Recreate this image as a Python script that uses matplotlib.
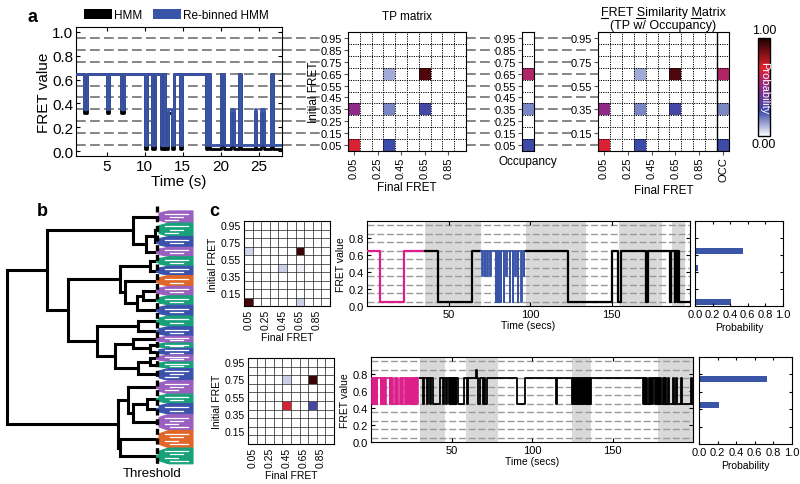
import numpy as np
import matplotlib
matplotlib.use("Agg")
import matplotlib.pyplot as plt
from matplotlib.colors import LinearSegmentedColormap, Normalize
from matplotlib.patches import Rectangle, Polygon
from matplotlib.lines import Line2D
from matplotlib.cm import ScalarMappable
import matplotlib.transforms as mtransforms

plt.rcParams['font.family'] = ['Liberation Sans', 'DejaVu Sans']

# ======================= DATA =======================
fret_levels = [0.05, 0.15, 0.25, 0.35, 0.45, 0.55, 0.65, 0.75, 0.85, 0.95]
fret_labels = ['0.05', '0.15', '0.25', '0.35', '0.45', '0.55', '0.65', '0.75', '0.85', '0.95']
fsm_label_levels = [0.15, 0.35, 0.55, 0.75, 0.95]
final_tick_levels = [0.05, 0.25, 0.45, 0.65, 0.85]

# panel a: example trace (change points and states)
a_times = [1.0, 2.0, 2.4, 5.0, 5.3, 6.9, 7.3, 10.0, 10.3, 10.9, 11.3, 12.1, 12.5, 12.7,
           13.0, 13.6, 13.8, 14.6, 14.9, 18.0, 18.3, 18.5, 20.0, 20.4, 21.3, 21.7, 22.4,
           22.6, 24.4, 24.6, 25.3, 25.6, 26.5, 26.8, 28.0]
a_rebinned = [0.65, 0.35, 0.65, 0.35, 0.65, 0.35, 0.65, 0.05, 0.65, 0.05, 0.65, 0.05,
              0.65, 0.05, 0.35, 0.05, 0.65, 0.05, 0.65, 0.05, 0.65, 0.05, 0.65, 0.05,
              0.35, 0.05, 0.65, 0.05, 0.35, 0.05, 0.35, 0.05, 0.65, 0.05]
a_hmm = [0.65, 0.32, 0.65, 0.32, 0.65, 0.32, 0.65, 0.02, 0.65, 0.02, 0.65, 0.02,
         0.65, 0.02, 0.32, 0.02, 0.65, 0.02, 0.65, 0.02, 0.65, 0.02, 0.65, 0.02,
         0.32, 0.02, 0.65, 0.02, 0.32, 0.02, 0.32, 0.02, 0.65, 0.02]

# panel a: transition probability matrix entries (initial, final, probability)
tp_initial = [0.65, 0.65, 0.35, 0.35, 0.35, 0.05, 0.05]
tp_final = [0.35, 0.65, 0.05, 0.35, 0.65, 0.05, 0.35]
tp_prob = [0.12, 0.92, 0.50, 0.17, 0.27, 0.68, 0.25]
occ_level = [0.65, 0.35, 0.05]
occ_prob = [0.58, 0.17, 0.26]

# panel b: dendrogram clusters (top to bottom) and tree (merge distance, left, right)
clu_colors = ['purple', 'green', 'blue', 'purple', 'green', 'blue', 'orange', 'purple',
              'green', 'blue', 'green', 'blue', 'purple', 'green', 'blue', 'purple',
              'green', 'blue', 'purple', 'green', 'blue', 'purple', 'orange', 'green']
clu_sizes = [9, 10, 8, 7, 7, 7, 8, 7, 7, 8, 8, 7, 5, 4, 5, 5, 5, 9, 10, 7, 8, 12, 13, 12]
tree = (185,
        (145,
         (59, 0, (46, (37, 1, 2), 3)),
         (124,
          (72, (42, 4, 5), (67, 6, (55, (49, 7, 8), 9))),
          (95, (54, 10, 11), (77, (59, 12, (42, 13, 14)), (54, (42, 15, 16), 17))))),
        (74, (64, 18, (59, (45, 19, 20), 21)), (72, 22, 23)))
threshold = 35

# panel c: two example molecules
c1_tp_initial = [0.65, 0.65, 0.45, 0.45, 0.05, 0.05]
c1_tp_final = [0.05, 0.65, 0.45, 0.65, 0.05, 0.65]
c1_tp_prob = [0.06, 0.95, 0.07, 0.02, 0.93, 0.07]
c2_tp_initial = [0.75, 0.75, 0.45, 0.45]
c2_tp_final = [0.45, 0.75, 0.45, 0.75]
c2_tp_prob = [0.07, 0.95, 0.68, 0.27]

c1_mag_t = [0.0, 8.0, 22.4, 35.6]
c1_mag_s = [0.65, 0.05, 0.65]
c1_blk1_t = [35.6, 43.4, 64.2, 70.0]
c1_blk1_s = [0.65, 0.05, 0.65]
c1_blue_t = [70.0, 70.6, 70.9, 72.2, 72.6, 73.8, 74.2, 75.6, 76.0, 78.8, 79.2, 79.6,
             80.0, 80.4, 80.8, 81.2, 81.6, 82.0, 82.4, 83.8, 84.2, 85.4, 85.8, 87.4,
             87.8, 89.4, 89.8, 90.9, 91.3, 92.4, 92.8, 94.5, 94.9, 96.1, 96.5, 97.7]
c1_blue_s = [0.65, 0.35, 0.65, 0.35, 0.65, 0.35, 0.65, 0.35, 0.65,
             0.05, 0.65, 0.05, 0.65, 0.05, 0.65, 0.05, 0.65, 0.05,
             0.65, 0.05, 0.65, 0.35, 0.65, 0.05, 0.65, 0.05, 0.65, 0.35,
             0.65, 0.05, 0.65, 0.05, 0.65, 0.35, 0.65]
c1_blk2_t = [97.7, 123.4, 150.0, 153.7, 155.5, 171.2, 172.0, 185.5, 186.3, 188.5,
             189.0, 190.0, 190.5, 191.2, 198.0]
c1_blk2_s = [0.65, 0.05, 0.65, 0.05, 0.65, 0.05, 0.65, 0.05, 0.65, 0.05, 0.65,
             0.05, 0.65, 0.05]
c1_shade = [(35.6, 70.0), (97.7, 134.0), (154.5, 181.0), (187.0, 195.0)]
c1_bar_y = [0.65, 0.45, 0.05]
c1_bar_p = [0.55, 0.03, 0.41]

c2_mag_t = [0.0, 0.5, 1.0, 1.5, 2.0, 2.5, 3.0, 3.5, 4.0, 6.0, 6.5, 7.0, 7.5, 8.0, 8.5,
            9.0, 9.5, 11.5, 12.0, 12.5, 13.0, 13.5, 15.0, 15.5, 16.0, 16.5, 18.0, 18.5,
            19.0, 19.5, 20.0, 21.2, 21.7, 22.2, 23.2, 23.7, 24.2, 24.7, 25.2, 25.7,
            26.2, 26.7, 27.2, 27.7, 28.2, 28.7, 29.2, 30.2]
c2_mag_s = [0.75, 0.45, 0.75, 0.45, 0.75, 0.45, 0.75, 0.45, 0.75, 0.45, 0.75, 0.45,
            0.75, 0.45, 0.75, 0.45, 0.75, 0.45, 0.75, 0.45, 0.75, 0.45, 0.75, 0.45,
            0.75, 0.45, 0.75, 0.45, 0.75, 0.45, 0.75, 0.45, 0.75, 0.45, 0.75, 0.45,
            0.75, 0.45, 0.75, 0.45, 0.75, 0.45, 0.75, 0.45, 0.75, 0.45, 0.75]
c2_blk_t = [30.2, 32.4, 33.0, 34.5, 35.1, 36.6, 37.2, 38.7, 43.0, 44.6, 45.2, 46.7,
            47.3, 48.6, 49.0, 49.4, 49.8, 50.2, 50.6, 51.0, 51.4, 51.8, 52.2, 52.6,
            53.0, 54.0, 57.7, 59.4, 60.0, 65.3, 65.9, 66.7, 67.5, 69.6, 70.2, 71.0,
            71.9, 90.6, 95.8, 114.6, 115.4, 125.0, 125.6, 126.2, 126.8, 127.4, 128.0,
            128.6, 129.2, 129.8, 130.4, 131.0, 131.6, 132.2, 132.8, 133.4, 134.0,
            134.6, 135.2, 135.8, 136.5, 168.8, 169.4, 170.0, 170.6, 171.2, 172.6,
            173.2, 173.8, 174.4, 175.0, 176.4, 177.0, 177.6, 178.2, 178.8, 179.4,
            180.0, 181.2, 181.8, 182.4, 183.0, 184.6, 185.2, 187.7, 188.3, 189.6,
            190.2, 192.7, 193.3, 198.8, 199.4, 200.0]
c2_blk_s = [0.75, 0.45, 0.75, 0.45, 0.75, 0.45, 0.75, 0.45, 0.75, 0.45, 0.75, 0.45,
            0.75, 0.45, 0.75, 0.45, 0.75, 0.45, 0.75, 0.45, 0.75, 0.45, 0.75, 0.45,
            0.75, 0.45, 0.75, 0.45, 0.75, 0.85, 0.75, 0.45, 0.75, 0.45, 0.75, 0.45,
            0.75, 0.45, 0.75, 0.45, 0.75,
            0.45, 0.75, 0.45, 0.75, 0.45, 0.75, 0.45, 0.75, 0.45, 0.75, 0.45, 0.75,
            0.45, 0.75, 0.45, 0.75, 0.45, 0.75, 0.45, 0.75,
            0.45, 0.75, 0.45, 0.75, 0.45, 0.75, 0.45, 0.75, 0.45, 0.75, 0.45, 0.75,
            0.45, 0.75, 0.45, 0.75, 0.45, 0.75, 0.45, 0.75, 0.45, 0.75, 0.45, 0.75,
            0.45, 0.75, 0.45, 0.75, 0.45, 0.75, 0.45]
c2_shade = [(30.2, 46.0), (58.9, 79.1), (125.0, 136.5), (178.0, 200.0)]
c2_bar_y = [0.75, 0.45]
c2_bar_p = [0.73, 0.22]

# ======================= STYLE =======================
W, H = 800, 485
BLUE = '#3a55a8'
MAGENTA = '#dc1f8a'
DASH_GREY = '#858585'
PALETTE = {'purple': '#9b5fc0', 'green': '#18a07a', 'blue': '#3b52ad', 'orange': '#e0662a'}
cmap = LinearSegmentedColormap.from_list(
    'prob', [(0.0, '#ffffff'), (0.25, '#3c4ba8'), (0.5, '#8e2a8a'),
             (0.7, '#e0202c'), (1.0, '#1a0000')])

fig = plt.figure(figsize=(W / 100, H / 100), dpi=100)


def add_ax(x0, y0, x1, y1):
    return fig.add_axes([x0 / W, 1 - y1 / H, (x1 - x0) / W, (y1 - y0) / H])


def fy(y):
    return 1 - y / H


def lvl_idx(v):
    return int(round((v - 0.05) / 0.1))


def build_matrix(inits, finals, probs, ncol=10):
    m = np.zeros((10, ncol))
    for i, f, p in zip(inits, finals, probs):
        m[lvl_idx(i), lvl_idx(f)] = p
    return m


def dotted_grid(ax, nx, ny, color='k', lw=0.7):
    for k in range(1, nx):
        ax.axvline(k * 0.1, color=color, lw=lw, ls=(0, (1.2, 1.2)), zorder=3)
    for k in range(1, ny):
        ax.axhline(k * 0.1, color=color, lw=lw, ls=(0, (1.2, 1.2)), zorder=3)


def steps(ax, t, s, **kw):
    ax.plot(t, list(s) + [s[-1]], drawstyle='steps-post', **kw)


# ======================= PANEL A =======================
ax_tr = add_ax(76, 28, 282, 157)
for lv in fret_levels:
    ax_tr.axhline(lv, color=DASH_GREY, lw=1.4, ls=(0, (5, 2.2)), zorder=1)
steps(ax_tr, a_times, a_hmm, color='k', lw=2.0, zorder=2)
steps(ax_tr, a_times, a_rebinned, color=BLUE, lw=2.0, zorder=3)
ax_tr.set_xlim(1, 28)
ax_tr.set_ylim(-0.04, 1.04)
ax_tr.set_xticks([5, 10, 15, 20, 25])
ax_tr.set_yticks([0.0, 0.2, 0.4, 0.6, 0.8, 1.0])
ax_tr.set_yticklabels(['0.0', '0.2', '0.4', '0.6', '0.8', '1.0'])
ax_tr.tick_params(direction='in', length=3, labelsize=11, pad=2, right=True, top=True)
ax_tr.set_xlabel('Time (s)', fontsize=11, labelpad=1)
ax_tr.set_ylabel('FRET value', fontsize=11, labelpad=1)

fig.legend([Rectangle((0, 0), 1, 1, fc='k'), Rectangle((0, 0), 1, 1, fc=BLUE)],
           ['HMM', 'Re-binned HMM'], loc='center left', bbox_to_anchor=(84 / W, fy(16)),
           ncol=2, frameon=False, fontsize=8.5, handlelength=2.4, handleheight=0.9,
           handletextpad=0.15, columnspacing=0.9, borderaxespad=0, borderpad=0)

# TP matrix
ax_tp = add_ax(348, 33, 466, 152)
edges = np.linspace(0, 1, 11)
ax_tp.pcolormesh(edges, edges, build_matrix(tp_initial, tp_final, tp_prob),
                 cmap=cmap, vmin=0, vmax=1)
dotted_grid(ax_tp, 10, 10)
ax_tp.set_xlim(0, 1)
ax_tp.set_ylim(0, 1)
ax_tp.set_yticks(fret_levels)
ax_tp.set_yticklabels(fret_labels)
ax_tp.set_xticks(final_tick_levels)
ax_tp.set_xticklabels(['0.05', '0.25', '0.45', '0.65', '0.85'], rotation=90)
ax_tp.tick_params(length=3, labelsize=8, pad=1, color='#555555')
ax_tp.set_title('TP matrix', fontsize=8.5, pad=9)
ax_tp.set_ylabel('Initial FRET', fontsize=8.5, labelpad=1)
ax_tp.set_xlabel('Final FRET', fontsize=8.5, labelpad=2)

# Occupancy
ax_oc = add_ax(522, 33, 534, 152)
occ = np.zeros((10, 1))
for lv, p in zip(occ_level, occ_prob):
    occ[lvl_idx(lv), 0] = p
ax_oc.pcolormesh([0, 1], edges, occ, cmap=cmap, vmin=0, vmax=1)
for k in range(1, 10):
    ax_oc.axhline(k * 0.1, color='k', lw=0.7, ls=(0, (1.2, 1.2)), zorder=3)
ax_oc.set_xlim(0, 1)
ax_oc.set_ylim(0, 1)
ax_oc.set_xticks([])
ax_oc.set_yticks(fret_levels)
ax_oc.set_yticklabels(fret_labels)
ax_oc.tick_params(length=3, labelsize=8, pad=1, color='#555555')
ax_oc.set_xlabel('Occupancy', fontsize=8.5, labelpad=3)

# FRET similarity matrix
ax_fs = add_ax(598, 33, 729, 152)
fsm = np.hstack([build_matrix(tp_initial, tp_final, tp_prob), occ])
xedges = np.linspace(0, 1.1, 12)
ax_fs.pcolormesh(xedges, edges, fsm, cmap=cmap, vmin=0, vmax=1)
dotted_grid(ax_fs, 11, 10)
ax_fs.axvline(1.0, color='k', lw=1.0, zorder=4)
ax_fs.set_xlim(0, 1.1)
ax_fs.set_ylim(0, 1)
ax_fs.set_yticks(fsm_label_levels)
ax_fs.set_yticklabels([fret_labels[lvl_idx(v)] for v in fsm_label_levels])
ax_fs.set_xticks(final_tick_levels + [1.05])
ax_fs.set_xticklabels(['0.05', '0.25', '0.45', '0.65', '0.85', 'OCC'], rotation=90)
ax_fs.tick_params(length=3, labelsize=8, pad=1, color='#555555')
ax_fs.set_xlabel('Final FRET', fontsize=8.5, labelpad=2)

title1 = 'FRET Similarity Matrix'
t_l1 = fig.text(663 / W, fy(13), title1, ha='center', va='center', fontsize=9)
fig.text(663 / W, fy(26), '(TP w/ Occupancy)', ha='center', va='center', fontsize=9)

# colorbar
cax = add_ax(758, 39, 770, 137)
cb = fig.colorbar(ScalarMappable(norm=Normalize(0, 1), cmap=cmap), cax=cax)
cb.set_ticks([])
cb.outline.set_linewidth(1.0)
cax.text(0.5, 1.02, '1.00', transform=cax.transAxes, ha='center', va='bottom', fontsize=9)
cax.text(0.5, -0.02, '0.00', transform=cax.transAxes, ha='center', va='top', fontsize=9)
cax.text(0.5, 0.5, 'Probability', transform=cax.transAxes, ha='center', va='center',
         rotation=270, color='white', fontsize=8)

# grey dashed guides linking panels
btrans = mtransforms.blended_transform_factory(fig.transFigure, ax_tr.transData)
for lv in fret_levels:
    fsm_end = 573 if any(abs(lv - v) < 1e-6 for v in fsm_label_levels) else 598
    for xa, xb in [(282, 321), (466, 495), (534, fsm_end)]:
        fig.add_artist(Line2D([xa / W, xb / W], [lv, lv], transform=btrans,
                              color=DASH_GREY, lw=1.4, ls=(0, (5, 2.2)), zorder=0))

# ======================= PANEL B =======================
ax_d = add_ax(3, 205, 197, 470)
S = sum(clu_sizes)
starts = np.concatenate([[0], np.cumsum(clu_sizes)[:-1]])
centers = starts + np.array(clu_sizes) / 2.0


def draw_node(node):
    if isinstance(node, int):
        return centers[node], threshold
    d, left, right = node
    yl, dl = draw_node(left)
    yr, dr = draw_node(right)
    ax_d.plot([d, d], [yl, yr], color='k', lw=2.2, solid_capstyle='projecting')
    ax_d.plot([d, dl], [yl, yl], color='k', lw=2.2, solid_capstyle='projecting')
    ax_d.plot([d, dr], [yr, yr], color='k', lw=2.2, solid_capstyle='projecting')
    return (yl + yr) / 2.0, d


draw_node(tree)
for k, (c, n) in enumerate(zip(clu_colors, clu_sizes)):
    col = PALETTE[c]
    y0, y1, yc = starts[k] + 0.15, starts[k] + n - 0.15, centers[k]
    h = y1 - y0
    ax_d.plot([threshold + 0.5, threshold - 3], [yc, yc], color=col, lw=2.2)
    poly = Polygon([(threshold - 2, yc - 0.3 * h), (threshold - 9, y0 + 0.05 * h),
                    (threshold - 12, y0), (-1, y0), (-1, y1), (threshold - 12, y1),
                    (threshold - 9, y1 - 0.05 * h), (threshold - 2, yc + 0.3 * h)],
                   closed=True, fc=col, ec=col, lw=0.8)
    ax_d.add_patch(poly)
    nl = max(2, n // 3)
    for j in range(nl):
        yy = y0 + h * (j + 1) / (nl + 1)
        ax_d.plot([threshold - 8 - 5 * (j % 2), 4 + 5 * (j % 3)], [yy, yy],
                  color='white', lw=0.9)
ax_d.plot([threshold, threshold], [-3.5, S + 1.5], color='k', lw=2.4, ls=(0, (1.8, 1.1)))
ax_d.set_xlim(189, -5)
ax_d.set_ylim(S + 3.7, -5)
ax_d.axis('off')
fig.text(152 / W, fy(474), 'Threshold', ha='center', va='center', fontsize=9.5)

# ======================= PANEL C =======================
def small_matrix(ax, inits, finals, probs):
    ax.pcolormesh(edges, edges, build_matrix(inits, finals, probs), cmap=cmap, vmin=0, vmax=1)
    for k in range(1, 10):
        ax.axvline(k * 0.1, color='#9a9a9a', lw=0.6, zorder=2)
        ax.axhline(k * 0.1, color='#9a9a9a', lw=0.6, zorder=2)
    dotted_grid(ax, 10, 10, lw=0.6)
    ax.set_xlim(0, 1)
    ax.set_ylim(0, 1)
    ax.set_yticks(fsm_label_levels)
    ax.set_yticklabels([fret_labels[lvl_idx(v)] for v in fsm_label_levels])
    ax.set_xticks(final_tick_levels)
    ax.set_xticklabels(['0.05', '0.25', '0.45', '0.65', '0.85'], rotation=90)
    ax.tick_params(length=0, labelsize=7.5, pad=2)
    ax.set_ylabel('Initial FRET', fontsize=7.5, labelpad=2)
    ax.set_xlabel('Final FRET', fontsize=7.5, labelpad=2)


def trace_axes(ax, xmax, shades):
    for a, b in shades:
        ax.axvspan(a, b, color='#d9d9d9', lw=0, zorder=0)
    for lv in fret_levels:
        ax.axhline(lv, color='#9a9a9a', lw=1.0, ls=(0, (5, 2)), zorder=1)
    ax.set_xlim(0, xmax)
    ax.set_ylim(0, 1.0)
    ax.set_yticks([0.0, 0.2, 0.4, 0.6, 0.8])
    ax.set_yticklabels(['0.0', '0.2', '0.4', '0.6', '0.8'])
    ax.set_xticks([50, 100, 150])
    ax.tick_params(direction='in', length=3, labelsize=8, pad=2, right=True, top=True)
    ax.set_xlabel('Time (secs)', fontsize=7.5, labelpad=1)
    ax.set_ylabel('FRET value', fontsize=7.5, labelpad=2)


def bar_axes(ax, ys, ps):
    ax.barh(ys, ps, height=0.07, color=BLUE)
    ax.set_xlim(0, 1.0)
    ax.set_ylim(0, 1.0)
    ax.set_xticks([0.0, 0.2, 0.4, 0.6, 0.8, 1.0])
    ax.set_xticklabels(['0.0', '0.2', '0.4', '0.6', '0.8', '1.0'])
    ax.set_yticks([0.2, 0.4, 0.6, 0.8])
    ax.set_yticklabels([])
    ax.tick_params(direction='in', length=2.5, labelsize=8, pad=2, top=True, right=True)
    ax.set_xlabel('Probability', fontsize=7.5, labelpad=2)


m1 = add_ax(244, 222, 330, 307)
small_matrix(m1, c1_tp_initial, c1_tp_final, c1_tp_prob)
t1 = add_ax(367, 222, 690, 307)
trace_axes(t1, 198, c1_shade)
steps(t1, c1_mag_t, c1_mag_s, color=MAGENTA, lw=1.6, zorder=3)
steps(t1, c1_blk1_t, c1_blk1_s, color='k', lw=1.6, zorder=3)
steps(t1, c1_blue_t, c1_blue_s, color=BLUE, lw=1.3, zorder=3)
steps(t1, c1_blk2_t, c1_blk2_s, color='k', lw=1.6, zorder=3)
b1 = add_ax(695, 222, 783, 307)
bar_axes(b1, c1_bar_y, c1_bar_p)

m2 = add_ax(248, 359, 334, 445)
small_matrix(m2, c2_tp_initial, c2_tp_final, c2_tp_prob)
t2 = add_ax(371, 358, 693, 443)
trace_axes(t2, 200, c2_shade)
steps(t2, c2_mag_t, c2_mag_s, color=MAGENTA, lw=1.2, zorder=3)
steps(t2, c2_blk_t, c2_blk_s, color='k', lw=1.3, zorder=3)
b2 = add_ax(699, 358, 792, 445)
bar_axes(b2, c2_bar_y, c2_bar_p)

# panel letters
fig.text(33 / W, fy(18), 'a', fontsize=13, fontweight='bold', ha='center', va='center')
fig.text(42 / W, fy(212), 'b', fontsize=13, fontweight='bold', ha='center', va='center')
fig.text(214 / W, fy(212), 'c', fontsize=13, fontweight='bold', ha='center', va='center')

# underline the initials F, S, M of the similarity-matrix title
renderer = fig.canvas.get_renderer()
bb = t_l1.get_window_extent(renderer)


def text_width(s):
    tmp = fig.text(0, 0, s, fontsize=9)
    w = tmp.get_window_extent(renderer).width
    tmp.remove()
    return w


for pos in [title1.index('F'), title1.index('S'), title1.index('M')]:
    xa = bb.x0 + (text_width(title1[:pos]) if pos > 0 else 0)
    xb = bb.x0 + text_width(title1[:pos + 1])
    fig.add_artist(Line2D([xa / W, xb / W], [(bb.y0 + 0.5) / H] * 2,
                          transform=fig.transFigure, color='k', lw=0.8))

fig.savefig('out.png', dpi=100)
